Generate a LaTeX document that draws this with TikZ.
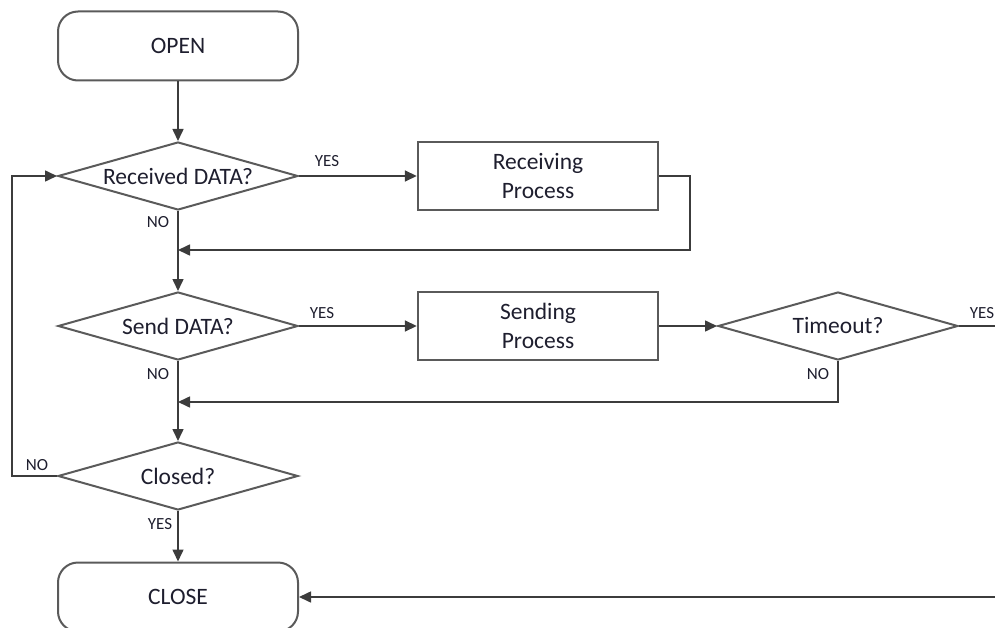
\documentclass[tikz,border=0pt]{standalone}
\usepackage{fontspec}
\setmainfont{Carlito}
\usetikzlibrary{shapes.geometric,arrows.meta}
\definecolor{shapeln}{HTML}{5A5A5A}
\definecolor{connln}{HTML}{3C3C3C}
\definecolor{txt}{HTML}{1E1E2E}
\tikzset{
  term/.style={draw=shapeln, line width=2pt, rounded corners=20pt, minimum width=240pt, minimum height=69pt, font=\fontsize{23.5}{26}\selectfont, text=txt},
  proc/.style={draw=shapeln, line width=2.4pt, minimum width=240pt, minimum height=68pt, align=center, font=\fontsize{23.5}{29}\selectfont, text=txt},
  dec/.style={draw=shapeln, line width=2pt, shape=diamond, aspect=3.53, inner sep=0pt, minimum width=240pt, minimum height=68pt, font=\fontsize{23.5}{26}\selectfont, text=txt},
  conn/.style={draw=connln, line width=1.6pt},
  arr/.style={conn, -{Triangle[length=12pt,width=11pt]}},
  lbl/.style={font=\fontsize{17}{18}\selectfont, text=txt, inner sep=0pt}
}
\begin{document}
\begin{tikzpicture}[x=1pt,y=-1pt]
\useasboundingbox (0,0) rectangle (995,628);
\node[term] (open) at (178,46) {OPEN};
\node[dec] (d1) at (178,176) {Received DATA?};
\node[proc] (rp) at (538,176) {Receiving\\Process};
\node[dec] (d2) at (178,326) {Send DATA?};
\node[proc] (sp) at (538,326) {Sending\\Process};
\node[dec] (d3) at (838,326) {Timeout?};
\node[dec] (d4) at (178,476) {Closed?};
\node[term] (close) at (178,597) {CLOSE};

\coordinate (m1) at (178,250);
\coordinate (m2) at (178,402);
\coordinate (r1) at (690,176);
\coordinate (r2) at (690,250);
\coordinate (t1) at (838,402);
\coordinate (yesend) at (996,326);
\coordinate (cin) at (996,597);
\coordinate (l1) at (12,476);
\coordinate (l2) at (12,176);

\draw[arr] (open.south) -- (d1.north);
\draw[arr] (d1.east) -- (rp.west);
\draw[arr] (rp.east) -- (r1) -- (r2) -- (m1);
\draw[arr] (d1.south) -- (d2.north);
\draw[arr] (d2.east) -- (sp.west);
\draw[arr] (sp.east) -- (d3.west);
\draw[conn] (d3.east) -- (yesend);
\draw[arr] (d3.south) -- (t1) -- (m2);
\draw[arr] (d2.south) -- (d4.north);
\draw[arr] (d4.west) -- (l1) -- (l2) -- (d1.west);
\draw[arr] (d4.south) -- (close.north);
\draw[arr] (cin) -- (close.east);

\node[lbl] (y1) at (327,161) {YES};
\node[lbl] (n1) at (158,222) {NO};
\node[lbl] (y2) at (322,313) {YES};
\node[lbl] (n2) at (158,374) {NO};
\node[lbl] (y3) at (982,313) {YES};
\node[lbl] (n3) at (818,374) {NO};
\node[lbl] (n4) at (37,465) {NO};
\node[lbl] (y4) at (160,524) {YES};
\end{tikzpicture}
\end{document}
